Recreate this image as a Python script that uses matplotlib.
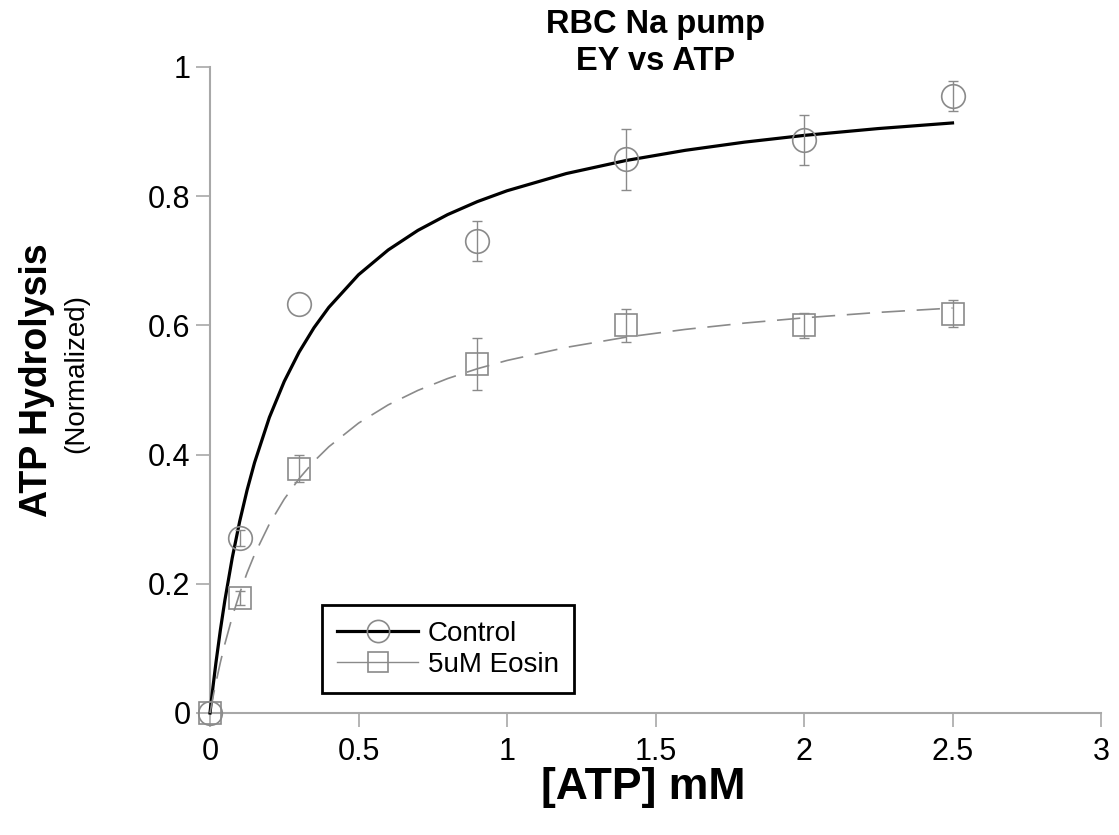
import matplotlib
matplotlib.use("Agg")
import matplotlib.pyplot as plt
from matplotlib.lines import Line2D

# ---- data ----
atp_conc = [0.0, 0.1, 0.3, 0.9, 1.4, 2.0, 2.5]
control_mean = [0.0, 0.271, 0.633, 0.731, 0.857, 0.887, 0.955]
control_err = [0.0, 0.012, 0.0, 0.031, 0.047, 0.038, 0.023]
eosin_mean = [0.0, 0.178, 0.378, 0.540, 0.600, 0.600, 0.618]
eosin_err = [0.0, 0.011, 0.021, 0.040, 0.026, 0.019, 0.021]

# fitted curves
fit_x = [0.0, 0.01, 0.02, 0.035, 0.05, 0.075, 0.1, 0.125, 0.15, 0.2, 0.25,
         0.3, 0.35, 0.4, 0.5, 0.6, 0.7, 0.8, 0.9, 1.0, 1.2, 1.4, 1.6, 1.8,
         2.0, 2.25, 2.5]
control_fit = [0.0, 0.0405, 0.0778, 0.1287, 0.1742, 0.2404, 0.2967, 0.3453,
               0.3876, 0.4577, 0.5133, 0.5587, 0.5963, 0.6279, 0.6784, 0.7168,
               0.7471, 0.7715, 0.7916, 0.8084, 0.8351, 0.8552, 0.8710, 0.8837,
               0.8941, 0.9047, 0.9134]
eosin_fit = [0.0, 0.0244, 0.0471, 0.0785, 0.1069, 0.1489, 0.1854, 0.2172,
             0.2454, 0.2927, 0.3311, 0.3628, 0.3895, 0.4121, 0.4487, 0.4770,
             0.4994, 0.5177, 0.5329, 0.5457, 0.5660, 0.5817, 0.5938, 0.6036,
             0.6117, 0.6201, 0.6269]

x_ticks = [0, 0.5, 1, 1.5, 2, 2.5, 3]
x_tick_labels = ["0", "0.5", "1", "1.5", "2", "2.5", "3"]
y_ticks = [0, 0.2, 0.4, 0.6, 0.8, 1.0]
y_tick_labels = ["0", "0.2", "0.4", "0.6", "0.8", "1"]

plt.rcParams["font.family"] = ["Liberation Sans", "DejaVu Sans"]

W, H = 1119, 835
fig = plt.figure(figsize=(W / 100, H / 100), dpi=100)
ax = fig.add_axes([210 / W, 1 - 713 / H, (1101 - 210) / W, (713 - 67) / H])

gray = "#8a8a8a"
spine_gray = "#a8a8a8"

ax.plot(fit_x, control_fit, color="black", lw=2.3, zorder=3, clip_on=False,
        solid_joinstyle="round")
ax.plot(fit_x, eosin_fit, color=gray, lw=1.2, dashes=(14, 7), zorder=3,
        clip_on=False)

# error bars only where a bar is drawn
ci = [i for i, e in enumerate(control_err) if e > 0]
ei = [i for i, e in enumerate(eosin_err) if e > 0]
ax.errorbar([atp_conc[i] for i in ci], [control_mean[i] for i in ci],
            yerr=[control_err[i] for i in ci], fmt="none", ecolor=gray,
            elinewidth=1.0, capsize=3.5, capthick=1.0, zorder=4)
ax.errorbar([atp_conc[i] for i in ei], [eosin_mean[i] for i in ei],
            yerr=[eosin_err[i] for i in ei], fmt="none", ecolor=gray,
            elinewidth=1.0, capsize=3.5, capthick=1.0, zorder=4)

ax.plot(atp_conc, control_mean, "o", ms=17, mfc="none", mec=gray, mew=1.2,
        zorder=5, clip_on=False)
ax.plot(atp_conc, eosin_mean, "s", ms=16.5, mfc="none", mec=gray, mew=1.2,
        zorder=5, clip_on=False)

ax.set_xlim(0, 3)
ax.set_ylim(0, 1)
ax.set_xticks(x_ticks)
ax.set_xticklabels(x_tick_labels, fontsize=22)
ax.set_yticks(y_ticks)
ax.set_yticklabels(y_tick_labels, fontsize=22)

for s in ["top", "right"]:
    ax.spines[s].set_visible(False)
for s in ["left", "bottom"]:
    ax.spines[s].set_color(spine_gray)
    ax.spines[s].set_linewidth(1.5)
ax.tick_params(direction="out", length=10, width=1.2, color=spine_gray,
               labelcolor="black")
ax.tick_params(axis="y", pad=4)
ax.tick_params(axis="x", pad=7)

handles = [
    Line2D([], [], color="black", lw=2.3, marker="o", ms=16, mfc="none",
           mec=gray, mew=1.2),
    Line2D([], [], color=gray, lw=1.0, marker="s", ms=15, mfc="none",
           mec=gray, mew=1.2),
]
leg = ax.legend(handles, ["Control", "5uM Eosin"], loc="lower left",
                bbox_to_anchor=(0.1257, 0.031), borderaxespad=0,
                fontsize=20, frameon=True, fancybox=False, edgecolor="black",
                handlelength=2.9, handletextpad=0.35, borderpad=0.55,
                labelspacing=0.18)
leg.get_frame().set_linewidth(2)
leg.get_frame().set_alpha(1)

fig.text(656 / W, 1 - 25 / H, "RBC Na pump", ha="center", va="center",
         fontsize=23.5, fontweight="bold")
fig.text(656 / W, 1 - 61 / H, "EY vs ATP", ha="center", va="center",
         fontsize=23.5, fontweight="bold")

fig.text(37 / W, 1 - 380 / H, "ATP Hydrolysis", rotation=90, ha="center",
         va="center", fontsize=27, fontweight="bold")
fig.text(76 / W, 1 - 373 / H, "(Normalized)", rotation=90, ha="center",
         va="center", fontsize=20)
fig.text(643 / W, 1 - 788 / H, "[ATP] mM", ha="center", va="center",
         fontsize=32, fontweight="bold")

fig.savefig("out.png", dpi=100)
